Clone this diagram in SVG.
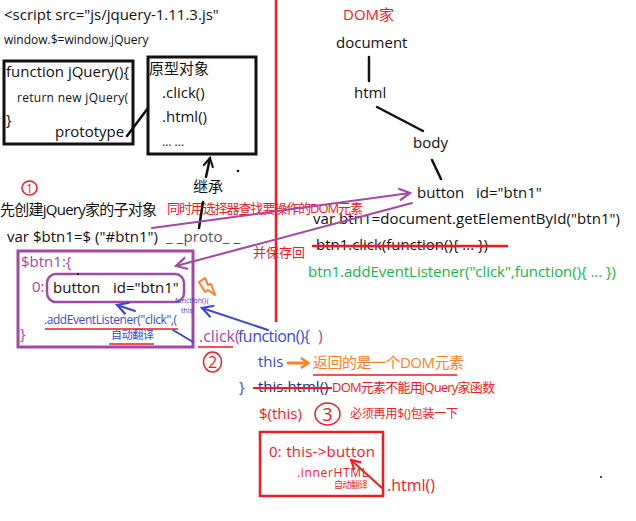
<svg xmlns="http://www.w3.org/2000/svg" width="636" height="521" viewBox="0 0 636 521">
<style>
text{font-family:"Open Sans","Noto Sans CJK SC",sans-serif;}
.k{fill:#111}
.r{fill:#ed1c24}
.p{fill:#a349a4}
.b{fill:#3f48cc}
.g{fill:#22b14c}
.o{fill:#ff7f27}
.s15{font-size:15px}
.s13{font-size:13px}
.s12{font-size:12px}
.ln{fill:none;stroke-linecap:round}
</style>
<defs>
<marker id="ak" markerWidth="12" markerHeight="12" refX="10" refY="6" orient="auto" markerUnits="userSpaceOnUse"><path d="M1,1 L10,6 L1,11" fill="none" stroke="#111" stroke-width="2"/></marker>
<marker id="ap" markerWidth="14" markerHeight="14" refX="12" refY="7" orient="auto" markerUnits="userSpaceOnUse"><path d="M1,1 L12,7 L1,13" fill="none" stroke="#a349a4" stroke-width="2.2"/></marker>
<marker id="ab" markerWidth="14" markerHeight="14" refX="12" refY="7" orient="auto" markerUnits="userSpaceOnUse"><path d="M1,1 L12,7 L1,13" fill="none" stroke="#3f48cc" stroke-width="2.2"/></marker>
<marker id="ar" markerWidth="12" markerHeight="12" refX="10" refY="6" orient="auto" markerUnits="userSpaceOnUse"><path d="M1,1 L10,6 L1,11" fill="none" stroke="#ed1c24" stroke-width="2.2"/></marker>
<marker id="ao" markerWidth="12" markerHeight="12" refX="9" refY="6" orient="auto" markerUnits="userSpaceOnUse"><path d="M2,1 L9,6 L2,11" fill="none" stroke="#ff7f27" stroke-width="2.6"/></marker>
</defs>
<rect width="636" height="521" fill="#fff"/>

<!-- red divider -->
<line x1="276" y1="0" x2="276" y2="322" stroke="#ed1c24" stroke-width="2.5"/>

<g id="script-head">
<text class="k s15" x="4" y="20">&lt;script src="js/jquery-1.11.3.js"</text>
<text class="k s12" x="4" y="44">window.$=window.jQuery</text>
</g>

<g id="jquery-fn">
<rect x="4" y="61" width="129" height="83" fill="none" stroke="#111" stroke-width="3"/>
<text class="k s15" x="6" y="77">function jQuery(){</text>
<text class="k s12" x="17" y="102" textLength="111">return new jQuery(</text>
<text class="k s15" x="6" y="125">}</text>
<text class="k s15" x="55" y="137">prototype</text>
</g>

<g id="prototype-obj">
<rect x="148" y="57" width="108" height="97" fill="none" stroke="#111" stroke-width="3"/>
<text class="k s15" x="149" y="74">原型对象</text>
<text class="k s15" x="162" y="98">.click()</text>
<text class="k s15" x="162" y="122">.html()</text>
<text class="k s12" x="162" y="146">... ...</text>
</g>

<g id="inherit-label">
<text class="k s15" x="193" y="192">继承</text>
</g>

<g id="dom-tree">
<text class="r s15" x="343" y="20">DOM家</text>
<text class="k s15" x="336" y="48">document</text>
<text class="k s15" x="354" y="98">html</text>
<text class="k s15" x="413" y="148">body</text>
<text class="k s15" x="417" y="198">button</text>
<text class="k s15" x="476" y="198">id="btn1"</text>
</g>

<g id="dom-code">
<text class="k s15" x="313" y="224" textLength="307">var btn1=document.getElementById("btn1")</text>
<text class="k s15" x="316" y="250" textLength="172">btn1.click(function(){ ... })</text>
<line x1="312" y1="246" x2="508" y2="246" stroke="#ed1c24" stroke-width="2.5"/>
<text class="g s15" x="308" y="277" textLength="308">btn1.addEventListener("click",function(){ ... })</text>
</g>

<g id="step1">
<ellipse cx="29.5" cy="188" rx="7.5" ry="7" fill="none" stroke="#ed1c24" stroke-width="1.5"/>
<text class="r" x="29.5" y="193" font-size="12" text-anchor="middle">1</text>
<text class="k s15" x="0" y="215" textLength="157">先创建jQuery家的子对象</text>
<text class="r s13" x="167" y="213" textLength="196">同时用选择器查找要操作的DOM元素</text>
<text class="k s15" x="7" y="242" textLength="151">var $btn1=$ ("#btn1")</text>
<text x="166" y="242" font-size="15" fill="#555" textLength="74">_ _proto_ _</text>
<text class="r s13" x="253" y="257">并保存回</text>
</g>

<g id="btn1-obj">
<rect x="18" y="251" width="175" height="96" fill="none" stroke="#a349a4" stroke-width="3"/>
<text class="p s15" x="21" y="267">$btn1:{</text>
<text class="p s15" x="32" y="292">0:</text>
<rect x="47" y="274" width="137" height="28" rx="9" fill="none" stroke="#a349a4" stroke-width="2.5"/>
<text class="k s15" x="53" y="293">button</text>
<text class="k s15" x="113" y="293">id="btn1"</text>
<text class="b" x="175" y="303" font-size="7">function(){</text>
<text class="b" x="181" y="313" font-size="7">this</text>
<text class="b s12" x="44" y="324" textLength="133">.addEventListener("click",(</text>
<line x1="45" y1="329" x2="178" y2="329" stroke="#ed1c24" stroke-width="1.5"/>
<text class="p s15" x="20" y="339">}</text>
<text class="b" x="111" y="339" font-size="11" textLength="43">自动翻译</text>
<line x1="109" y1="344" x2="154" y2="344" stroke="#ed1c24" stroke-width="1.5"/>
<circle cx="78" cy="274" r="1" fill="#111"/>
</g>

<g id="bolt">
<path d="M199,282 L205,278 L208,285 L211,284 L215,295 L208,290 L205,292 Z" fill="#fff" stroke="#ff7f27" stroke-width="2" stroke-linejoin="round"/>
</g>

<g id="click-fn">
<text class="p" x="199" y="342" font-size="16">.click(</text>
<text class="b" x="238" y="342" font-size="16" textLength="72">function(){</text>
<text class="p" x="318" y="342" font-size="16">)</text>
<line x1="198" y1="347" x2="233" y2="347" stroke="#ed1c24" stroke-width="1.5"/>
<ellipse cx="212.5" cy="362" rx="9" ry="10" fill="none" stroke="#ed1c24" stroke-width="1.5"/>
<text class="r" x="212.5" y="368" font-size="16" text-anchor="middle">2</text>
<text class="b s15" x="258" y="367">this</text>
<text class="o s15" x="313" y="368" textLength="151">返回的是一个DOM元素</text>
<line x1="313" y1="375" x2="457" y2="375" stroke="#ed1c24" stroke-width="1.5"/>
<text class="b s15" x="239" y="392">}</text>
<text class="s15" x="258" y="392" fill="#2b2b8c">this.html()</text>
<line x1="253" y1="388" x2="332" y2="388" stroke="#ed1c24" stroke-width="2"/>
<text class="r s13" x="332" y="392" textLength="163">DOM元素不能用jQuery家函数</text>
<text class="r s15" x="259" y="419">$(this)</text>
<ellipse cx="327.5" cy="414" rx="12.5" ry="11" fill="none" stroke="#ed1c24" stroke-width="1.5"/>
<text class="r" x="327.5" y="421" font-size="18" text-anchor="middle">3</text>
<text class="r s12" x="350" y="418" textLength="108">必须再用$()包装一下</text>
</g>

<g id="wrapped-obj">
<rect x="260" y="432" width="123" height="64" fill="none" stroke="#ed1c24" stroke-width="2.5"/>
<text class="r s15" x="269" y="457" textLength="106">0: this-&gt;button</text>
<text class="r s12" x="297" y="477" textLength="71">.innerHTML</text>
<text class="r" x="334" y="488" font-size="9" textLength="34">自动翻译</text>
<text class="r" x="387" y="491" font-size="16">.html()</text>
</g>

<g id="connectors" class="ln">
<line x1="127" y1="136" x2="148" y2="108" stroke="#111" stroke-width="2.5"/>
<line x1="199" y1="228" x2="203" y2="202" stroke="#111" stroke-width="2.5"/>
<line x1="206" y1="177" x2="210" y2="158" stroke="#111" stroke-width="2.5" marker-end="url(#ak)"/>
<line x1="369" y1="57" x2="369" y2="81" stroke="#111" stroke-width="2.5"/>
<line x1="377" y1="107" x2="423" y2="131" stroke="#111" stroke-width="2.5"/>
<line x1="432" y1="160" x2="441" y2="179" stroke="#111" stroke-width="2.5"/>
<line x1="152" y1="228" x2="410" y2="193" stroke="#a349a4" stroke-width="2" marker-end="url(#ap)"/>
<line x1="412" y1="203" x2="176" y2="266" stroke="#a349a4" stroke-width="2" marker-end="url(#ap)"/>
<line x1="135" y1="311" x2="117" y2="305" stroke="#3f48cc" stroke-width="2" marker-end="url(#ab)"/>
<line x1="173" y1="330" x2="193" y2="342" stroke="#3f48cc" stroke-width="2"/>
<line x1="268" y1="330" x2="202" y2="308" stroke="#3f48cc" stroke-width="2" marker-end="url(#ab)"/>
<line x1="288" y1="363" x2="308" y2="363" stroke="#ff7f27" stroke-width="3" marker-end="url(#ao)"/>
<line x1="382" y1="488" x2="351" y2="460" stroke="#ed1c24" stroke-width="2" marker-end="url(#ar)"/>
</g>

<g id="dots" fill="#111">
<circle cx="238" cy="171" r="1.3"/>
<circle cx="601" cy="477" r="1"/>
</g>
</svg>
